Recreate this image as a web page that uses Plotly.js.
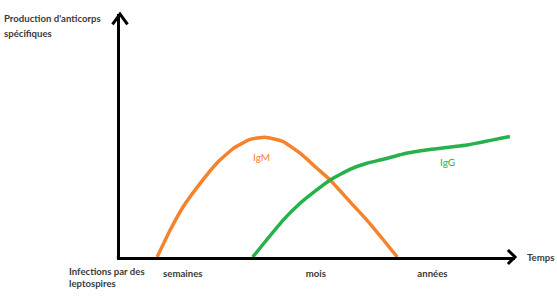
<!DOCTYPE html>
<html>
<head>
<meta charset="utf-8">
<script src="https://cdn.plot.ly/plotly-3.0.1.min.js"></script>
<style>html,body{margin:0;padding:0;background:#fff;}#chart{width:557px;height:297px;}</style>
</head>
<body>
<div id="chart"></div>
<script>
// ---- data (arbitrary units: time 0-100, antibody production 0-100) ----
const seriesNames = ["IgM", "IgG"];
const timeIgM = [9.4, 12.7, 16.0, 20.3, 24.5, 28.7, 32.9, 36.7, 41.3, 45.6, 49.8, 53.2, 58.2, 62.5, 66.7, 70.2];
const valuesIgM = [0, 11.1, 20.7, 30.3, 38.6, 44.7, 48.4, 49.3, 47.5, 42.7, 36.6, 31.7, 22.8, 15.2, 7.0, 0];
const timeIgG = [33.6, 37.1, 41.3, 45.6, 49.8, 53.2, 58.2, 62.5, 66.7, 71.7, 78.5, 87.8, 98.7];
const valuesIgG = [0, 7.0, 15.2, 22.1, 27.6, 31.7, 36.1, 38.6, 40.2, 42.4, 44.2, 46.1, 49.6];
const phaseTicks = [15.9, 49.6, 79.1];
const phaseLabels = ["semaines", "mois", "années"];
const seriesLabelTime = [35.9, 83.0];
const seriesLabelValue = [41.2, 39.1];
const yAxisLabel = ["Production d'anticorps", "spécifiques"];
const originLabel = ["Infections par des", "leptospires"];
const xAxisLabel = "Temps";

// ---- styles ----
const colors = ["#F5822D", "#26B14B"];
const FONT = "Lato, 'Open Sans', sans-serif";
const TEXT = "#3a3a3a";

const traces = [
  {x: timeIgM, y: valuesIgM, name: seriesNames[0], mode: "lines",
   line: {color: colors[0], width: 3.5, shape: "spline", smoothing: 0.4}, hoverinfo: "skip"},
  {x: timeIgG, y: valuesIgG, name: seriesNames[1], mode: "lines",
   line: {color: colors[1], width: 3.5, shape: "spline", smoothing: 0.4}, hoverinfo: "skip"}
];

const annotations = [];
function addText(text, x, y, xref, yref, xanchor, font) {
  annotations.push({text: text, x: x, y: y, xref: xref, yref: yref, xanchor: xanchor,
    yanchor: "middle", showarrow: false, borderpad: 0, font: font});
}
const bold = {family: FONT, size: 9.6, color: TEXT, weight: 700};
addText(yAxisLabel[0], -0.2962, 0.9835, "paper", "paper", "left", bold);
addText(yAxisLabel[1], -0.2962, 0.9218, "paper", "paper", "left", bold);
addText(originLabel[0], -0.1316, -0.0617, "paper", "paper", "left", bold);
addText(originLabel[1], -0.1316, -0.1111, "paper", "paper", "left", bold);
addText(xAxisLabel, 1.0278, -0.0041, "paper", "paper", "left", bold);
seriesNames.forEach((n, i) => {
  addText(n, seriesLabelTime[i], seriesLabelValue[i], "x", "y", "center",
    {family: FONT, size: 10, color: colors[i], weight: 400});
});

const layout = {
  width: 557, height: 297,
  margin: {l: 120, r: 42, t: 14, b: 40},
  paper_bgcolor: "#ffffff", plot_bgcolor: "#ffffff",
  showlegend: false,
  xaxis: {range: [0, 100], showgrid: false, zeroline: false, showline: true,
    linecolor: "#000", linewidth: 3, ticks: "", tickvals: phaseTicks, ticktext: phaseLabels,
    tickfont: bold, ticklabelstandoff: 5, fixedrange: true},
  yaxis: {range: [0, 100], showgrid: false, zeroline: false, showline: true,
    linecolor: "#000", linewidth: 3, ticks: "", showticklabels: false, fixedrange: true},
  annotations: annotations,
  shapes: [
    {type: "path", xref: "paper", yref: "paper", path: "M -0.019,0.957 L 0,1 L 0.019,0.957",
     line: {color: "#000", width: 3}},
    {type: "path", xref: "paper", yref: "paper", path: "M 0.982,0.029 L 1,0 L 0.982,-0.029",
     line: {color: "#000", width: 3}},
    {type: "line", xref: "paper", yref: "paper", x0: -0.008, x1: 0, y0: 0, y1: 0,
     line: {color: "#000", width: 3}}
  ]
};

Plotly.newPlot("chart", traces, layout, {displayModeBar: false, staticPlot: true});
</script>
</body>
</html>
